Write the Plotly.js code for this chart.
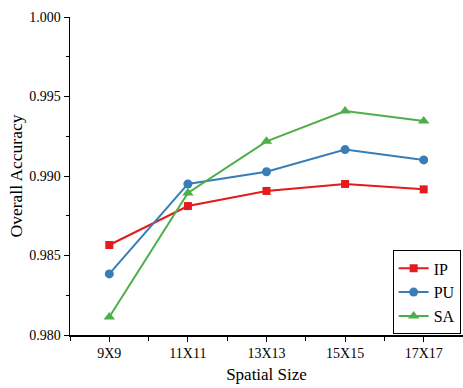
<!DOCTYPE html>
<html>
<head>
<meta charset="utf-8">
<script src="https://cdn.plot.ly/plotly-3.0.1.min.js"></script>
<style>html,body{margin:0;padding:0;background:#fff;}#chart{width:463px;height:388px;}</style>
</head>
<body>
<div id="chart"></div>
<script>
const categories = ["9X9", "11X11", "13X13", "15X15", "17X17"];
const ipValues = [0.98566, 0.98811, 0.98906, 0.98950, 0.98916];
const puValues = [0.98384, 0.98950, 0.99027, 0.99166, 0.99101];
const saValues = [0.98113, 0.98893, 0.99218, 0.99409, 0.99346];
const yTickVals = [0.980, 0.985, 0.990, 0.995, 1.000];
const yTickText = ["0.980", "0.985", "0.990", "0.995", "1.000"];

const xIdx = categories.map((c, i) => i);
const font = "Liberation Serif, Times New Roman, serif";

function series(name, ys, color, symbol, size) {
  return {
    x: xIdx, y: ys, name: name, type: "scatter", mode: "lines+markers",
    line: {color: color, width: 2},
    marker: {color: color, symbol: symbol, size: size}
  };
}

const data = [
  series("IP", ipValues, "#e41a1c", "square", 8),
  series("PU", puValues, "#377eb8", "circle", 9),
  series("SA", saValues, "#4daf4a", "triangle-up", 10)
];

const layout = {
  width: 463, height: 388,
  margin: {l: 70, r: 0, t: 17, b: 53},
  paper_bgcolor: "#fff", plot_bgcolor: "#fff",
  font: {family: font, color: "#000", size: 14},
  showlegend: true,
  legend: {
    x: 0.994, xanchor: "right", y: 0.134, yanchor: "middle",
    bordercolor: "#000", borderwidth: 1, bgcolor: "#fff",
    font: {family: font, size: 16, color: "#000"},
    tracegroupgap: 0, itemwidth: 30
  },
  xaxis: {
    range: [-0.5, 4.5],
    tickmode: "array", tickvals: xIdx, ticktext: categories,
    ticks: "outside", ticklen: 5, tickwidth: 1, tickcolor: "#000",
    minor: {ticks: "outside", ticklen: 4, tickwidth: 1, tickcolor: "#000", dtick: 0.5, tick0: -0.5, tickmode: "linear"},
    showline: true, linecolor: "#000", linewidth: 1.5,
    showgrid: false, zeroline: false,
    tickfont: {family: font, size: 14, color: "#000"},
    title: {text: "Spatial Size", font: {family: font, size: 17, color: "#000"}, standoff: 8}
  },
  yaxis: {
    range: [0.980, 1.000],
    tickmode: "array", tickvals: yTickVals, ticktext: yTickText,
    ticks: "outside", ticklen: 5, tickwidth: 1, tickcolor: "#000",
    minor: {ticks: "outside", ticklen: 3, tickwidth: 1, tickcolor: "#000", dtick: 0.0025, tick0: 0.98, tickmode: "linear"},
    showline: true, linecolor: "#000", linewidth: 1.5,
    showgrid: false, zeroline: false,
    tickfont: {family: font, size: 14, color: "#000"},
    title: {text: "Overall Accuracy", font: {family: font, size: 17.5, color: "#000"}, standoff: 2}
  }
};

Plotly.newPlot("chart", data, layout, {displayModeBar: false, staticPlot: true});
</script>
</body>
</html>
